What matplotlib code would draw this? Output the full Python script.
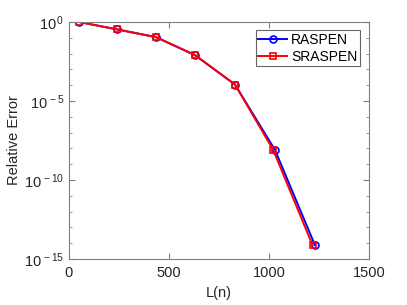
import numpy as np
import matplotlib
matplotlib.use("Agg")
import matplotlib.pyplot as plt
from matplotlib.ticker import FixedLocator, NullFormatter

plt.rcParams['font.family'] = ['Liberation Sans', 'DejaVu Sans']
plt.rcParams['mathtext.fontset'] = 'custom'
plt.rcParams['mathtext.rm'] = 'Liberation Sans'
plt.rcParams['mathtext.it'] = 'Liberation Sans'

# data
n_raspen = [50, 240, 435, 630, 830, 1030, 1230]
err_raspen = [1.0, 0.34, 0.11, 8e-3, 1.1e-4, 8e-9, 7.4e-15]
n_sraspen = [50, 240, 435, 630, 830, 1021, 1218]
err_sraspen = [1.0, 0.34, 0.11, 8e-3, 1.1e-4, 8e-9, 7.4e-15]
ytick_vals = [1e-15, 1e-10, 1e-5, 1e0]
ytick_labels = [r'$10^{\,-15}$', r'$10^{\,-10}$', r'$10^{\,-5}$', r'$10^{\,0}$']

fig = plt.figure(figsize=(4.07, 3.05), dpi=100)
ax = fig.add_axes([0.1695, 0.1508, 0.7371, 0.7771])

ax.semilogy(n_raspen, err_raspen, '-o', color='blue', lw=1.4, ms=5,
            mfc='none', mew=1.2, label='RASPEN')
ax.semilogy(n_sraspen, err_sraspen, '-s', color='red', lw=1.4, ms=4.5,
            mfc='none', mew=1.2, label='SRASPEN')

ax.set_xlim(0, 1500)
ax.set_ylim(1e-15, 1e0)
ax.set_xticks([0, 500, 1000, 1500])
ax.yaxis.set_major_locator(FixedLocator(ytick_vals))
ax.yaxis.set_minor_locator(FixedLocator([10.0**k for k in range(-15, 1)]))
ax.yaxis.set_minor_formatter(NullFormatter())
ax.set_yticklabels(ytick_labels)

gray = '#262626'
for s in ax.spines.values():
    s.set_color('#808080')
    s.set_linewidth(0.8)
ax.tick_params(which='both', direction='in', top=True, right=True,
               color='#808080', labelcolor=gray, labelsize=10.5)
ax.tick_params(which='major', length=4)
ax.tick_params(which='minor', length=2.5)
ax.tick_params(axis='x', pad=5)

ax.set_xlabel('L(n)', fontsize=10.5, color=gray, labelpad=4)
ax.set_ylabel('Relative Error', fontsize=10.5, color=gray, labelpad=2)

leg = ax.legend(loc='upper right', fontsize=10, fancybox=False,
                borderpad=0.2, handlelength=2.1, handletextpad=0.25,
                labelspacing=0.2, borderaxespad=0,
                bbox_to_anchor=(0.97, 0.966))
leg.get_frame().set_edgecolor('#404040')
leg.get_frame().set_linewidth(0.8)

fig.savefig('out.png', dpi=100)
